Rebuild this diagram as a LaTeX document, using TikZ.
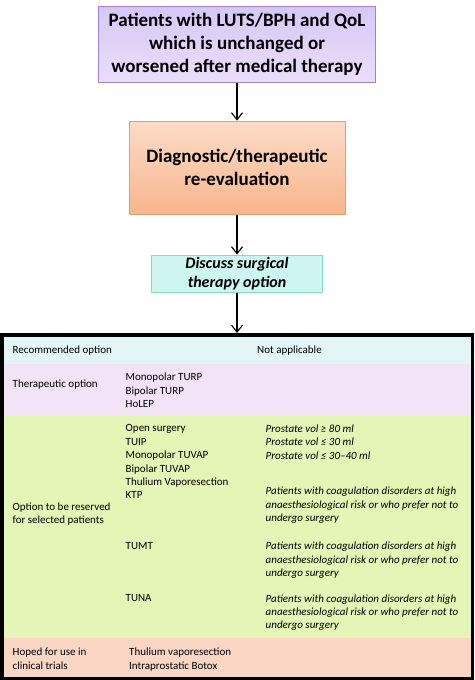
\documentclass[tikz,border=0pt]{standalone}
\usepackage{xcolor}
\usepackage{tikz}
\usepackage{fontspec}
\setmainfont{Carlito}
\usetikzlibrary{shapes, arrows.meta, positioning}

\definecolor{lavtop}{RGB}{214,200,246}
\definecolor{lavbot}{RGB}{234,222,250}
\definecolor{lavline}{RGB}{160,128,216}
\definecolor{orgtop}{RGB}{252,220,198}
\definecolor{orgbot}{RGB}{248,182,140}
\definecolor{orgline}{RGB}{232,156,108}
\definecolor{cyfill}{RGB}{206,246,240}
\definecolor{cyline}{RGB}{132,216,204}
\definecolor{rowrec}{RGB}{226,246,246}
\definecolor{rowther}{RGB}{242,228,246}
\definecolor{rowres}{RGB}{228,245,182}
\definecolor{rowhope}{RGB}{250,214,196}

\tikzset{
  cell/.style={anchor=north west,inner sep=0pt,align=left,font=\fontsize{11}{13.4}\selectfont},
  note/.style={cell,font=\fontsize{11}{13.4}\selectfont\itshape}
}

\begin{document}
\begin{tikzpicture}[x=1pt,y=-1pt]
        \useasboundingbox (0,0) rectangle (474,680);
        \begin{scope}[every node/.style={draw,align=center,inner sep=0pt,line width=1pt}]
          \node[top color=lavtop,bottom color=lavbot,draw=lavline,minimum width=277pt,minimum height=76pt,
                font=\fontsize{19}{23}\selectfont\bfseries] (patients) at (237,44.3)
                {Patients with LUTS/BPH and QoL\\which is unchanged or\\worsened after medical therapy};
          \node[top color=orgtop,bottom color=orgbot,draw=orgline,minimum width=216pt,minimum height=93pt,
                font=\fontsize{19}{23.5}\selectfont\bfseries] (reeval) at (237,167.6)
                {Diagnostic/therapeutic\\re-evaluation};
          \node[fill=cyfill,draw=cyline,minimum width=171pt,minimum height=37pt,
                font=\fontsize{16}{19.5}\selectfont\bfseries\itshape] (discuss) at (237,273.6)
                {Discuss surgical\\therapy option};
        \end{scope}
        % table rows
        \fill[rowrec] (0,333) rectangle (474,364);
        \fill[rowther] (0,364) rectangle (474,416);
        \fill[rowres] (0,416) rectangle (474,638);
        \fill[rowhope] (0,638) rectangle (474,680);
        \node[draw,line width=3.5pt,minimum width=470.5pt,minimum height=343.5pt,inner sep=0pt] (tbl) at (237,506.5) {};
        \begin{scope}[every edge/.style={draw=black,line width=1.1pt,-{Straight Barb[length=7pt,width=11pt]}}]
          \path (patients) edge (reeval);
          \path (reeval) edge (discuss);
          \path (discuss) edge (tbl.north);
        \end{scope}
        % table text
        \node[cell] (rec) at (12.5,345.8) {Recommended option};
        \node[cell] (notapp) at (257,345.8) {Not applicable};
        \node[cell] (ther) at (12.5,379.3) {Therapeutic option};
        \node[cell] (therlist) at (125.5,373) {Monopolar TURP\\Bipolar TURP\\HoLEP};
        \node[cell] (reslist) at (125.5,424.6) {Open surgery\\TUIP\\Monopolar TUVAP\\Bipolar TUVAP\\Thulium Vaporesection\\KTP};
        \node[note] (prost) at (265.5,424.6) {Prostate vol ≥ 80 ml\\Prostate vol ≤ 30 ml\\Prostate vol ≤ 30–40 ml};
        \node[note] (coagktp) at (265.5,487) {Patients with coagulation disorders at high\\anaesthesiological risk or who prefer not to\\undergo surgery};
        \node[cell] (reserved) at (12.5,502.6) {Option to be reserved\\for selected patients};
        \node[cell] (tumt) at (125.5,542) {TUMT};
        \node[note] (coagtumt) at (265.5,542) {Patients with coagulation disorders at high\\anaesthesiological risk or who prefer not to\\undergo surgery};
        \node[cell] (tuna) at (125.5,594.3) {TUNA};
        \node[note] (coagtuna) at (265.5,594.3) {Patients with coagulation disorders at high\\anaesthesiological risk or who prefer not to\\undergo surgery};
        \node[cell] (hoped) at (12.5,648) {Hoped for use in\\clinical trials};
        \node[cell] (hopedlist) at (129,648) {Thulium vaporesection\\Intraprostatic Botox};
      \end{tikzpicture}
\end{document}
